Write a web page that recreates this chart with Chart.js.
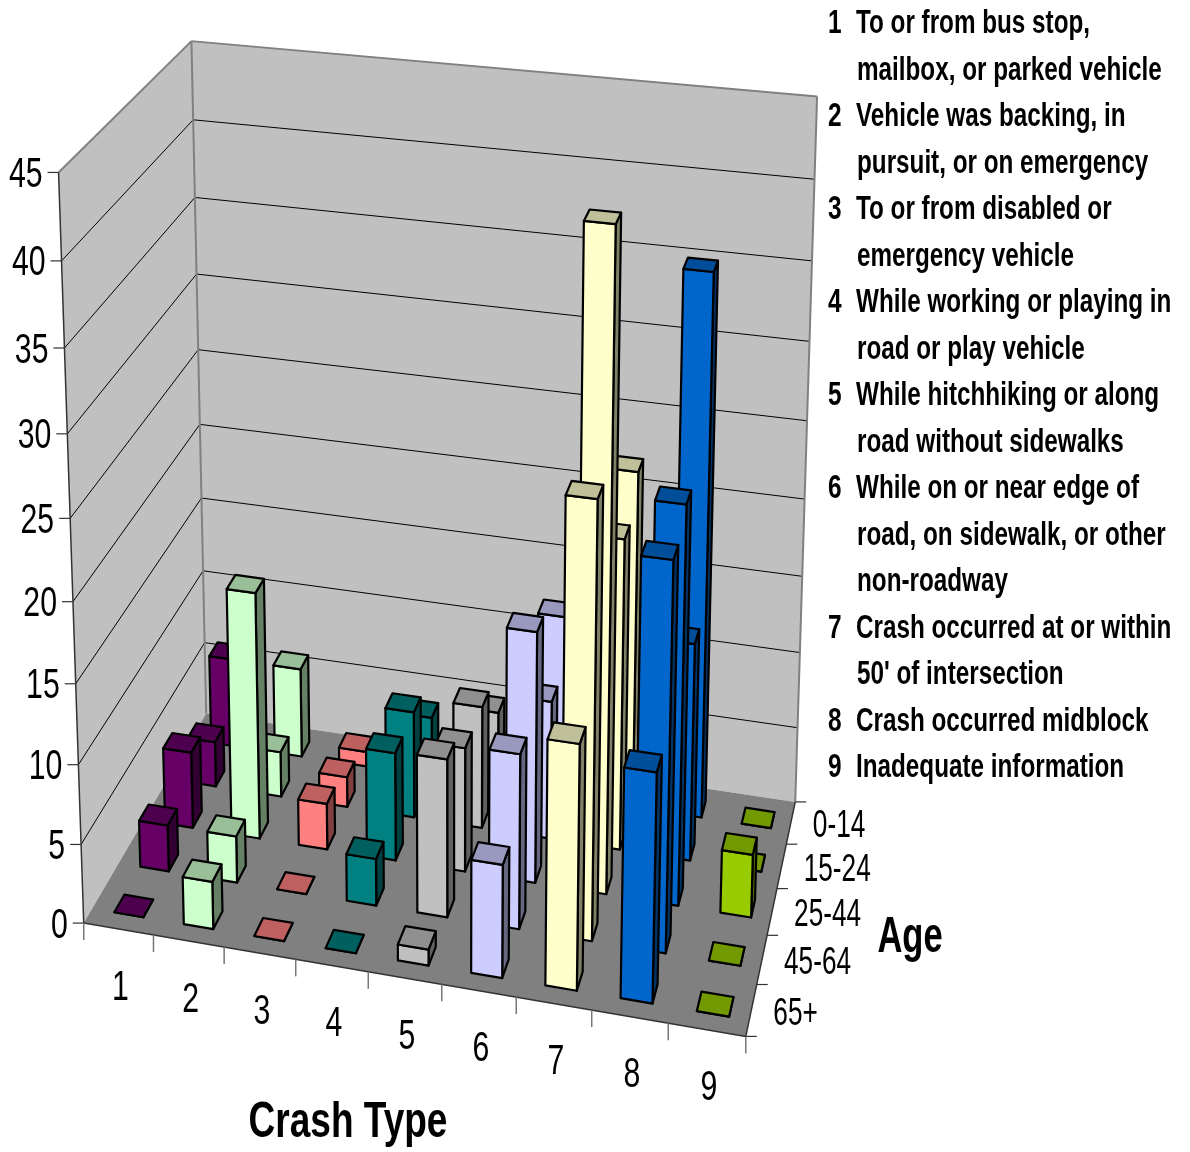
<!DOCTYPE html>
<html>
<head>
<meta charset="utf-8">
<title>Crash Type by Age</title>
<script src="https://cdn.jsdelivr.net/npm/chart.js@4/dist/chart.umd.js"></script>
<style>
html, body { margin: 0; padding: 0; background: #fff; }
canvas { display: block; }
</style>
</head>
<body>
<canvas id="chart" width="1190" height="1152"></canvas>
<script>
// Data: one array per age group, one value per crash type
const crashTypes = ['1', '2', '3', '4', '5', '6', '7', '8', '9'];
const ageGroups = ['65+', '45-64', '25-44', '15-24', '0-14'];
const age65plus = [0, 3, 0, 0, 1, 7, 15, 14, 0];
const age45to64 = [3, 3, 0, 3, 10, 11, 27, 24, 0];
const age25to44 = [5, 16, 3, 7, 8, 16, 41, 25, 4];
const age15to24 = [3, 3, 2, 7, 8, 9, 20, 14, 0];
const age0to14 = [6, 6, 1, 4, 5, 12, 22, 35, 0];
const series = [age65plus, age45to64, age25to44, age15to24, age0to14];
const typeColors = ['#660066', '#CCFFCC', '#FF8080', '#008080', '#C0C0C0', '#CCCCFF', '#FFFFCC', '#0066CC', '#99CC00'];
const legendLines = [
    ['1', 'To or from bus stop,'], ['', 'mailbox, or parked vehicle'],
    ['2', 'Vehicle was backing, in'], ['', 'pursuit, or on emergency'],
    ['3', 'To or from disabled or'], ['', 'emergency vehicle'],
    ['4', 'While working or playing in'], ['', 'road or play vehicle'],
    ['5', 'While hitchhiking or along'], ['', 'road without sidewalks'],
    ['6', 'While on or near edge of'], ['', 'road, on sidewalk, or other'], ['', 'non-roadway'],
    ['7', 'Crash occurred at or within'], ['', "50' of intersection"],
    ['8', 'Crash occurred midblock'],
    ['9', 'Inadequate information']
];

// Where the corners of the plot box sit on the page: [type, age, value] fractions -> pixels
const boxCorners = [
    [0, 0, 0, 85, 922], [1, 0, 0, 745, 1038], [1, 1, 0, 796, 800], [0, 1, 0, 205, 715],
    [0, 0, 1, 58, 172], [0, 1, 1, 192, 41], [1, 1, 1, 817, 97]
];
const barWidth = 0.42; // share of a type cell
const barDepth = 0.38; // share of an age cell
const barNudge = 0.03; // bars sit a little right of the cell centre
const fontName = '"Liberation Sans", sans-serif';

// Least squares fit of the perspective matrix (last entry fixed to 1)
function fitCamera(points) {
    const n = 11;
    const m = Array.from({ length: n }, () => new Array(n + 1).fill(0));
    const addRow = (row, rhs) => {
        for (let i = 0; i < n; i++) {
            for (let j = 0; j < n; j++) m[i][j] += row[i] * row[j];
            m[i][n] += row[i] * rhs;
        }
    };
    points.forEach(([x, y, z, px, py]) => {
        const u = px / 1000, v = py / 1000;
        addRow([x, y, z, 1, 0, 0, 0, 0, -u * x, -u * y, -u * z], u);
        addRow([0, 0, 0, 0, x, y, z, 1, -v * x, -v * y, -v * z], v);
    });
    for (let i = 0; i < n; i++) {
        let best = i;
        for (let k = i + 1; k < n; k++) if (Math.abs(m[k][i]) > Math.abs(m[best][i])) best = k;
        [m[i], m[best]] = [m[best], m[i]];
        for (let k = 0; k < n; k++) {
            if (k === i) continue;
            const f = m[k][i] / m[i][i];
            for (let j = i; j <= n; j++) m[k][j] -= f * m[i][j];
        }
    }
    return m.map((row, i) => row[n] / row[i]);
}
const cam = fitCamera(boxCorners);

function shade(hex, f) {
    const v = parseInt(hex.slice(1), 16);
    return 'rgb(' + [(v >> 16) & 255, (v >> 8) & 255, v & 255].map(c => Math.round(c * f)).join(',') + ')';
}

function poly(ctx, pts, fill, stroke, lw) {
    ctx.beginPath();
    pts.forEach((p, i) => i ? ctx.lineTo(p[0], p[1]) : ctx.moveTo(p[0], p[1]));
    ctx.closePath();
    if (fill) { ctx.fillStyle = fill; ctx.fill(); }
    if (stroke) { ctx.strokeStyle = stroke; ctx.lineWidth = lw; ctx.stroke(); }
}

function line(ctx, a, b, color, lw) {
    ctx.beginPath();
    ctx.moveTo(a[0], a[1]);
    ctx.lineTo(b[0], b[1]);
    ctx.strokeStyle = color;
    ctx.lineWidth = lw;
    ctx.stroke();
}

// the original type is a squeezed narrow face, so the text is scaled sideways
function label(ctx, text, x, y, font, squeeze, align) {
    ctx.save();
    ctx.translate(x, y);
    ctx.scale(squeeze, 1);
    ctx.font = font;
    ctx.textAlign = align || 'center';
    ctx.textBaseline = 'middle';
    ctx.fillStyle = '#000';
    ctx.fillText(text, 0, 0);
    ctx.restore();
}

// Draws the 3D box and bars from the chart's own scales
const bars3d = {
    id: 'bars3d',
    beforeDatasetsDraw(chart) {
        const ctx = chart.ctx;
        const sx = chart.scales.x, sy = chart.scales.y, sa = chart.scales.age;
        const project = (type, age, value) => {
            const x = (sx.getPixelForValue(type) - sx.left) / sx.width;
            const y = (sa.getPixelForValue(age) - sa.left) / sa.width;
            const z = (sy.bottom - sy.getPixelForValue(value)) / sy.height;
            const w = cam[8] * x + cam[9] * y + cam[10] * z + 1;
            return [
                1000 * (cam[0] * x + cam[1] * y + cam[2] * z + cam[3]) / w,
                1000 * (cam[4] * x + cam[5] * y + cam[6] * z + cam[7]) / w
            ];
        };
        const nT = crashTypes.length, nA = ageGroups.length, top = sy.max;
        ctx.save();
        ctx.lineJoin = 'round';

        // walls and floor
        const A = project(0, 0, 0), B = project(nT, 0, 0), C = project(nT, nA, 0), D = project(0, nA, 0);
        const E = project(0, 0, top), F = project(0, nA, top), G = project(nT, nA, top);
        poly(ctx, [A, D, F, E], '#C0C0C0');
        poly(ctx, [D, C, G, F], '#C0C0C0');
        sy.ticks.forEach(t => {
            if (t.value > 0 && t.value < top) {
                line(ctx, project(0, 0, t.value), project(0, nA, t.value), '#000', 1);
                line(ctx, project(0, nA, t.value), project(nT, nA, t.value), '#000', 1);
            }
        });
        line(ctx, E, F, '#808080', 2);
        line(ctx, F, G, '#808080', 2);
        line(ctx, F, D, '#808080', 2);
        line(ctx, G, C, '#808080', 2);
        poly(ctx, [A, B, C, D], '#808080');

        // axes, ticks and tick labels
        line(ctx, E, A, '#333', 1.5);
        line(ctx, A, B, '#333', 1.5);
        line(ctx, B, C, '#333', 1.5);
        sy.ticks.forEach(t => {
            const p = project(0, 0, t.value);
            line(ctx, p, [p[0] - 11, p[1]], '#333', 1.2);
            label(ctx, t.label, p[0] - 16, p[1] + 3, '42px ' + fontName, 0.72, 'right');
        });
        for (let i = 0; i <= nT; i++) {
            const p = project(i, 0, 0);
            line(ctx, p, [p[0], p[1] + 17], '#777', 1.5);
        }
        crashTypes.forEach((name, i) => {
            const p = project(i + 0.5, 0, 0);
            label(ctx, name, p[0] + 2, p[1] + 59, '42px ' + fontName, 0.72);
        });
        for (let i = 0; i <= nA; i++) {
            const p = project(nT, i, 0);
            line(ctx, p, [p[0] + 11, p[1]], '#333', 1.2);
        }
        ageGroups.forEach((name, i) => {
            const p = project(nT, i + 0.5, 0);
            label(ctx, name, p[0] + 22, p[1] + 4, '38px ' + fontName, 0.69, 'left');
        });

        // bars, far row first and left to right
        const padT = (1 - barWidth) / 2, padA = (1 - barDepth) / 2;
        for (let a = nA - 1; a >= 0; a--) {
            chart.data.datasets[a].data.forEach((pt, i) => {
                const c0 = pt.x - 0.5 + padT + barNudge, c1 = pt.x + 0.5 - padT + barNudge;
                const a0 = a + padA, a1 = a + 1 - padA;
                const v = pt.y, color = typeColors[i];
                const fl = project(c0, a0, 0), fr = project(c1, a0, 0), br = project(c1, a1, 0);
                const tfl = project(c0, a0, v), tfr = project(c1, a0, v), tbr = project(c1, a1, v), tbl = project(c0, a1, v);
                poly(ctx, [fr, br, tbr, tfr], shade(color, 0.5), '#000', 2.2);
                poly(ctx, [fl, fr, tfr, tfl], color, '#000', 2.2);
                poly(ctx, [tfl, tfr, tbr, tbl], shade(color, 0.75), '#000', 2.2);
            });
        }

        // titles and the crash type key
        label(ctx, 'Crash Type', 348, 1123, 'bold 50px ' + fontName, 0.74);
        label(ctx, 'Age', 910, 938, 'bold 50px ' + fontName, 0.69);
        legendLines.forEach(([num, text], i) => {
            const y = 24 + i * 46.5;
            if (num) label(ctx, num, 828, y, 'bold 33px ' + fontName, 0.74, 'left');
            label(ctx, text, num ? 856 : 857, y, 'bold 33px ' + fontName, 0.735, 'left');
        });
        ctx.restore();
    }
};

new Chart(document.getElementById('chart'), {
    type: 'scatter',
    data: {
        datasets: series.map((values, a) => ({
            label: ageGroups[a],
            data: values.map((v, i) => ({ x: i + 0.5, y: v })),
            pointRadius: 0
        }))
    },
    options: {
        responsive: false,
        animation: false,
        events: [],
        layout: { padding: 0 },
        plugins: { legend: { display: false }, tooltip: { enabled: false } },
        scales: {
            x: { type: 'linear', display: false, min: 0, max: crashTypes.length },
            age: { type: 'linear', axis: 'x', display: false, min: 0, max: ageGroups.length },
            y: { type: 'linear', display: false, min: 0, max: 45, ticks: { stepSize: 5 } }
        }
    },
    plugins: [bars3d]
});
</script>
</body>
</html>
